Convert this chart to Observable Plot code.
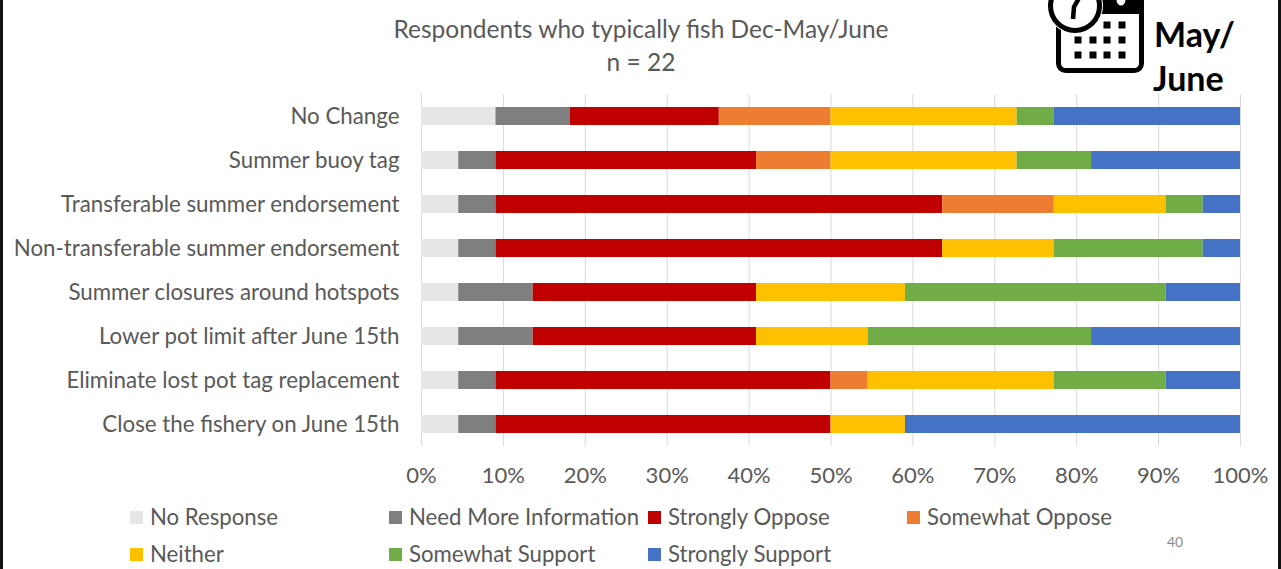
<!DOCTYPE html>
<html><head><meta charset="utf-8">
<script src="https://cdn.jsdelivr.net/npm/d3@7"></script>
<script src="https://cdn.jsdelivr.net/npm/@observablehq/plot@0.6"></script>
<style>
html,body{margin:0;padding:0;background:#fff;overflow:hidden}
#page{position:relative;width:1281px;height:569px;overflow:hidden;font-family:Lato,sans-serif;color:#595959}
#page>*{position:absolute}
.frame{top:0;bottom:0;width:3px;background:#111}
.t{white-space:nowrap;line-height:1}
.key{width:13px;height:13px}
</style></head><body>
<div id="page"></div>
<script>
const categories=["No Change","Summer buoy tag","Transferable summer endorsement","Non-transferable summer endorsement","Summer closures around hotspots","Lower pot limit after June 15th","Eliminate lost pot tag replacement","Close the fishery on June 15th"];
const seriesNames=["No Response","Need More Information","Strongly Oppose","Somewhat Oppose","Neither","Somewhat Support","Strongly Support"];
const seriesColors=["#e7e6e6","#7f7f7f","#c00000","#ed7d31","#ffc000","#70ad47","#4472c4"];
const noResponse=[2,1,1,1,1,1,1,1];
const needMoreInfo=[2,1,1,1,2,2,1,1];
const stronglyOppose=[4,7,12,12,6,6,9,9];
const somewhatOppose=[3,2,3,0,0,0,1,0];
const neither=[5,5,3,3,4,3,5,2];
const somewhatSupport=[1,2,1,4,7,6,3,0];
const stronglySupport=[5,4,1,1,2,4,2,9];
const seriesValues=[noResponse,needMoreInfo,stronglyOppose,somewhatOppose,neither,somewhatSupport,stronglySupport];
const rows=seriesNames.flatMap((s,i)=>categories.map((c,j)=>({category:c,series:s,count:seriesValues[i][j]})));
const page=document.getElementById("page");
const chart=Plot.plot({
  width:1281,height:480,
  marginLeft:421,marginRight:41,marginTop:94,marginBottom:34,
  style:{fontFamily:"Lato,sans-serif",background:"transparent",overflow:"visible"},
  x:{domain:[0,1],ticks:d3.range(0,1.01,0.1),tickFormat:d=>Math.round(d*100)+"%",label:null},
  y:{domain:categories,label:null,paddingInner:0.59,paddingOuter:0.295,align:0.5},
  color:{domain:seriesNames,range:seriesColors},
  marks:[
    Plot.gridX(d3.range(0,1.01,0.1),{stroke:"#d9d9d9",strokeOpacity:1,strokeWidth:1}),
    Plot.barX(rows,Plot.stackX({x:"count",y:"category",fill:"series",order:seriesNames,offset:"normalize"})),
    Plot.axisX({anchor:"bottom",ticks:d3.range(0,1.01,0.1),tickFormat:d=>Math.round(d*100)+"%",tickSize:0,tickPadding:21,fontSize:22,fill:"#595959",label:null}),
    Plot.axisY({anchor:"left",tickSize:0,tickPadding:22,fontSize:22.3,fill:"#595959",label:null})
  ]
});
chart.style.left="0";chart.style.top="0";
page.appendChild(chart);
function text(s,x,y,size,extra){const e=document.createElement("div");e.className="t";e.textContent=s;e.style.left=x+"px";e.style.top=y+"px";e.style.fontSize=size+"px";Object.assign(e.style,extra||{});page.appendChild(e);return e}
text("Respondents who typically fish Dec-May/June",641,17,24.5,{transform:"translateX(-50%)"});
text("n = 22",641,50,24.5,{transform:"translateX(-50%)"});
const legendPos=[[130,509],[389,509],[648,509],[907,509],[130,546],[389,546],[648,546]];
seriesNames.forEach((s,i)=>{const [x,y]=legendPos[i];
  const k=document.createElement("div");k.className="key";k.style.left=x+"px";k.style.top=(y+2)+"px";k.style.background=seriesColors[i];page.appendChild(k);
  text(s,x+20,y-3,22.2)});
text("40",1167,535,14,{color:"#8b8b8b"});
text("May/",1154,17,34,{fontWeight:"700",color:"#000"});
text("June",1153,61,34,{fontWeight:"700",color:"#000"});
text("Dec-",1165,-30,34,{fontWeight:"700",color:"#000"});
const ns="http://www.w3.org/2000/svg";
const ic=document.createElementNS(ns,"svg");ic.setAttribute("width","110");ic.setAttribute("height","80");ic.style.left="1045px";ic.style.top="0";
ic.innerHTML=`<rect x="13.5" y="-12" width="83" height="82.5" rx="7" fill="#fff" stroke="#000" stroke-width="5"/>
<rect x="13" y="-4" width="84" height="18" fill="#000"/>
<circle cx="30" cy="6" r="28" fill="#fff"/>
<circle cx="30" cy="6" r="24.5" fill="#fff" stroke="#000" stroke-width="5"/>
<path d="M34 -2 L29 7 L28 19" stroke="#000" stroke-width="4.5" fill="none"/>
<ellipse cx="76" cy="0" rx="6" ry="7" fill="#fff" stroke="#000" stroke-width="3"/>`+
[[62,25],[77,25],[33,40],[48,40],[62,40],[77,40],[33,55],[48,55],[62,55],[77,55]].map(([x,y])=>`<rect x="${x-3.5}" y="${y-3.5}" width="7" height="7" fill="#000"/>`).join("");
page.appendChild(ic);
for(const x of [0,1278]){const f=document.createElement("div");f.className="frame";f.style.left=x+"px";page.appendChild(f)}
</script></body></html>
